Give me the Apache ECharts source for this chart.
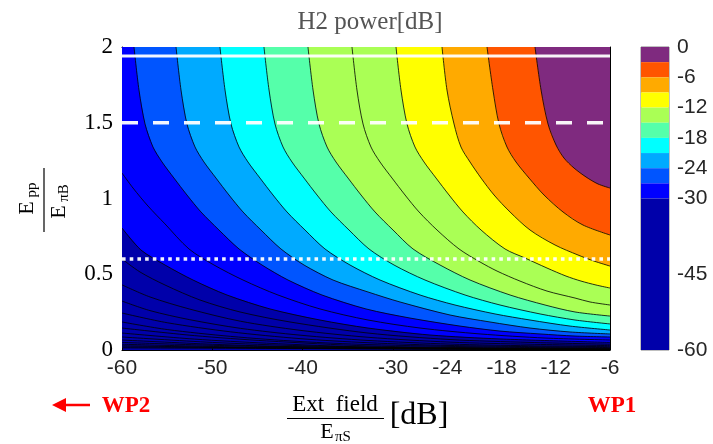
<!DOCTYPE html>
<html><head><meta charset="utf-8">
<script src="https://cdn.jsdelivr.net/npm/echarts@6/dist/echarts.min.js"></script>
<style>html,body{margin:0;padding:0;background:#fff}#c{width:713px;height:444px}</style>
</head><body><div id="c"></div>
<script>
// ---- axes / ticks ----
const xTicks = [-60, -50, -40, -30, -24, -18, -12, -6];
const yTicks = [0, 0.5, 1, 1.5, 2];
const cbTicks = [0, -6, -12, -18, -24, -30, -45, -60];
const cbEdges = [0, -3, -6, -9, -12, -15, -18, -21, -24, -27, -30, -60];
const cbColors = ['#7f2a7f', '#ff5500', '#ffaa00', '#ffff00', '#aaff55', '#55ffaa', '#00ffff', '#00aaff', '#0055ff', '#0000ff', '#0000aa'];

// ---- white reference lines (y values) ----
const wpSolidY = 1.94;
const wpDashedY = 1.5;
const wpDottedY = 0.6;

// ---- contour lines [ext field dB, Epp/EpiB] ----
const c10 = [[-14.3,2],[-13.63,1.716],[-12.86,1.492],[-11.97,1.353],[-11.09,1.267],[-9.98,1.201],[-8.65,1.142],[-7.33,1.096],[-6,1.069]]; // -2.5 dB
const c9 = [[-19.61,2],[-18.95,1.716],[-18.28,1.492],[-17.4,1.34],[-16.4,1.241],[-14.96,1.135],[-13.3,1.023],[-11.2,0.911],[-8.99,0.825],[-6,0.759]]; // -5
const c8 = [[-24.59,2],[-24.04,1.716],[-23.26,1.492],[-22.49,1.34],[-21.49,1.241],[-20.27,1.135],[-18.83,1.023],[-17.06,0.911],[-14.85,0.792],[-12.08,0.693],[-9.54,0.627],[-7.77,0.587],[-6,0.554]]; // -7.5
const c7 = [[-29.68,2],[-29.13,1.716],[-28.46,1.492],[-27.58,1.34],[-26.58,1.241],[-25.25,1.135],[-23.81,1.023],[-22.27,0.911],[-20.27,0.792],[-17.62,0.667],[-15.4,0.607],[-12.97,0.541],[-10.87,0.488],[-9.21,0.455],[-7.55,0.429],[-6,0.409]]; // -10
const c6 = [[-34.55,2],[-34.0,1.716],[-33.33,1.492],[-32.45,1.34],[-31.45,1.241],[-30.12,1.135],[-28.68,1.023],[-27.13,0.911],[-25.14,0.792],[-22.71,0.667],[-20.38,0.581],[-18.5,0.521],[-15.96,0.455],[-12.97,0.389],[-9.87,0.343],[-8.21,0.317],[-6,0.297]]; // -12.5
const c5 = [[-39.42,2],[-38.86,1.716],[-38.2,1.492],[-37.31,1.34],[-36.32,1.241],[-34.99,1.135],[-33.55,1.023],[-32.0,0.911],[-30.01,0.792],[-27.8,0.667],[-24.81,0.561],[-21.49,0.462],[-17.06,0.363],[-13.19,0.297],[-9.87,0.251],[-6,0.224]]; // -15
const c4 = [[-44.29,2],[-43.73,1.716],[-43.07,1.492],[-42.18,1.34],[-41.19,1.241],[-39.86,1.135],[-38.42,1.023],[-36.87,0.911],[-34.88,0.792],[-32.67,0.667],[-29.9,0.561],[-26.47,0.462],[-22.04,0.363],[-18.17,0.297],[-13.74,0.238],[-9.87,0.198],[-6,0.172]]; // -17.5
const c3 = [[-49.16,2],[-48.6,1.716],[-47.94,1.492],[-47.05,1.34],[-46.06,1.241],[-44.73,1.135],[-43.29,1.023],[-41.74,0.911],[-39.75,0.792],[-37.54,0.667],[-34.77,0.561],[-31.45,0.462],[-27.02,0.363],[-23.15,0.297],[-18.72,0.238],[-14.85,0.198],[-10.42,0.158],[-6,0.132]]; // -20
const c2 = [[-54.02,2],[-53.47,1.716],[-52.81,1.492],[-51.92,1.34],[-50.93,1.241],[-49.6,1.135],[-48.16,1.023],[-46.61,0.911],[-44.62,0.792],[-42.41,0.667],[-39.86,0.561],[-36.65,0.462],[-32.78,0.383],[-29.24,0.317],[-23.7,0.231],[-19.28,0.185],[-14.85,0.145],[-10.42,0.119],[-6,0.106]]; // -22.5
const c1 = [[-58.67,2],[-58.12,1.716],[-57.45,1.492],[-56.57,1.34],[-55.57,1.241],[-54.25,1.135],[-52.81,1.023],[-51.26,0.911],[-49.27,0.792],[-47.05,0.667],[-44.51,0.561],[-41.63,0.462],[-37.87,0.363],[-33.0,0.271],[-28.13,0.211],[-22.6,0.158],[-18.17,0.125],[-13.74,0.106],[-9.87,0.092],[-6,0.086]]; // -25
const l1 = [[-60,1.168],[-58.78,1.069],[-57.12,0.95],[-55.24,0.832],[-52.59,0.667],[-49.82,0.561],[-46.61,0.462],[-42.74,0.363],[-38.09,0.271],[-32.78,0.198],[-27.02,0.145],[-20.38,0.106],[-13.19,0.079],[-6,0.066]]; // -27.5
const l2 = [[-60,0.805],[-57.9,0.66],[-55.24,0.561],[-52.14,0.462],[-48.38,0.363],[-43.62,0.271],[-38.09,0.198],[-32.78,0.145],[-25.92,0.099],[-18.17,0.073],[-6,0.05]]; // -30
const l3 = [[-60,0.601],[-58.01,0.515],[-55.24,0.429],[-51.37,0.33],[-46.94,0.251],[-41.41,0.185],[-32.78,0.112],[-23.7,0.069],[-14.85,0.05],[-6,0.038]];
const l4 = [[-60,0.43],[-56.9,0.35],[-52.5,0.27],[-46.9,0.19],[-40.3,0.13],[-32.78,0.084],[-23.7,0.052],[-14.85,0.038],[-6,0.029]];
const l5 = [[-60,0.323],[-56.9,0.26],[-52.5,0.2],[-46.9,0.143],[-40.3,0.098],[-32.78,0.063],[-23.7,0.039],[-14.85,0.028],[-6,0.022]];
const l6 = [[-60,0.244],[-55,0.18],[-48,0.12],[-40.3,0.075],[-32.78,0.048],[-23.7,0.03],[-6,0.016]];
const l7 = [[-60,0.185],[-55,0.135],[-48,0.09],[-40.3,0.056],[-32.78,0.036],[-20,0.02],[-6,0.012]];
const l8 = [[-60,0.145],[-52,0.095],[-44,0.06],[-32.78,0.027],[-20,0.015],[-6,0.009]];
const l9 = [[-60,0.112],[-52,0.072],[-44,0.045],[-32.78,0.02],[-6,0.0068]];
const l10 = [[-60,0.086],[-50,0.05],[-40,0.028],[-25,0.012],[-6,0.005]];
const l11 = [[-60,0.066],[-50,0.038],[-40,0.021],[-6,0.0038]];
const l12 = [[-60,0.05],[-45,0.024],[-6,0.0028]];
const l13 = [[-60,0.038],[-45,0.018],[-6,0.002]];
const l14 = [[-60,0.028],[-40,0.011],[-6,0.0015]];
const l15 = [[-60,0.02],[-6,0.001]];
const l16 = [[-60,0.014],[-6,0.0007]];

// contour lines ordered from lowest to highest level, with the colour of the band above each
const contourLines = [l16,l15,l14,l13,l12,l11,l10,l9,l8,l7,l6,l5,l4,l3,l2,l1,c1,c2,c3,c4,c5,c6,c7,c8,c9,c10];
const bandAbove = ['#0000aa','#0000aa','#0000aa','#0000aa','#0000aa','#0000aa','#0000aa','#0000aa','#0000aa','#0000aa','#0000aa','#0000aa','#0000aa','#0000aa',
  '#0000ff','#0000ff','#0055ff','#00aaff','#00ffff','#55ffaa','#aaff55','#aaff55','#ffff00','#ffaa00','#ff5500','#7f2a7f'];

const X_MIN = -60, X_MAX = -6, Y_MIN = 0, Y_MAX = 2;

const chart = echarts.init(document.getElementById('c'), null, {renderer: 'canvas'});

const sans = 'Liberation Sans, Arial, sans-serif';
const serif = 'Liberation Serif, Times New Roman, serif';

function fillItem(params, api) {
  const line = contourLines[params.dataIndex];
  const pts = line.map(p => api.coord(p));
  pts.push(api.coord([X_MAX, Y_MAX]));
  pts.push(api.coord([X_MIN, Y_MAX]));
  return {type: 'polygon', shape: {points: pts}, style: {fill: bandAbove[params.dataIndex]}, silent: true};
}
function lineItem(params, api) {
  const line = contourLines[params.dataIndex];
  const pts = line.map(p => api.coord(p));
  return {type: 'polyline', shape: {points: pts, smooth: 0.3}, style: {stroke: '#000', lineWidth: 0.8, fill: null}, silent: true};
}
function cbItem(params, api) {
  const i = params.dataIndex;
  const a = api.coord([0, cbEdges[i]]);
  const b = api.coord([1, cbEdges[i + 1]]);
  return {type: 'rect', shape: {x: a[0], y: a[1], width: b[0] - a[0], height: b[1] - a[1]}, style: {fill: cbColors[i]}, silent: true};
}

const itemData = contourLines.map(l => l[0]);

const option = {
  animation: false,
  backgroundColor: '#fff',
  grid: [
    {left: 122, top: 47, width: 488, height: 303, show: true, backgroundColor: '#0000aa', borderColor: '#000', borderWidth: 0},
    {left: 641, top: 47, width: 28, height: 303, show: true, borderColor: '#808080', borderWidth: 1, backgroundColor: 'transparent'}
  ],
  xAxis: [
    {gridIndex: 0, type: 'value', min: X_MIN, max: X_MAX, position: 'bottom',
     axisLine: {show: true, onZero: false, lineStyle: {color: '#000', width: 1}},
     axisTick: {show: true, inside: true, length: 5, customValues: xTicks, lineStyle: {color: '#000'}},
     axisLabel: {show: true, customValues: xTicks, color: '#262626', fontFamily: sans, fontSize: 21, margin: 8},
     splitLine: {show: false}},
    {gridIndex: 0, type: 'value', min: X_MIN, max: X_MAX, position: 'top',
     axisLine: {show: true, onZero: false, lineStyle: {color: '#000', width: 1}},
     axisTick: {show: true, inside: true, length: 5, customValues: xTicks, lineStyle: {color: '#000'}},
     axisLabel: {show: false}, splitLine: {show: false}},
    {gridIndex: 1, type: 'value', min: 0, max: 1, show: false}
  ],
  yAxis: [
    {gridIndex: 0, type: 'value', min: Y_MIN, max: Y_MAX, interval: 0.5, position: 'left',
     axisLine: {show: true, onZero: false, lineStyle: {color: '#000', width: 1}},
     axisTick: {show: true, inside: true, length: 5, lineStyle: {color: '#000'}},
     axisLabel: {show: true, color: '#000', fontFamily: serif, fontSize: 23, margin: 9, formatter: v => String(v)},
     splitLine: {show: false}},
    {gridIndex: 0, type: 'value', min: Y_MIN, max: Y_MAX, interval: 0.5, position: 'right',
     axisLine: {show: true, onZero: false, lineStyle: {color: '#000', width: 1}},
     axisTick: {show: true, inside: true, length: 5, lineStyle: {color: '#000'}},
     axisLabel: {show: false}, splitLine: {show: false}},
    {gridIndex: 1, type: 'value', min: -60, max: 0, position: 'right',
     axisLine: {show: false}, axisTick: {show: false}, splitLine: {show: false},
     axisLabel: {show: true, customValues: cbTicks, color: '#262626', fontFamily: sans, fontSize: 21, margin: 8}}
  ],
  series: [
    {type: 'custom', xAxisIndex: 0, yAxisIndex: 0, renderItem: fillItem, data: itemData, z: 1, clip: true, silent: true},
    {type: 'custom', xAxisIndex: 0, yAxisIndex: 0, renderItem: lineItem, data: itemData, z: 2, clip: true, silent: true},
    {type: 'line', xAxisIndex: 0, yAxisIndex: 0, data: [[X_MIN, wpSolidY], [X_MAX, wpSolidY]], symbol: 'none', z: 5, silent: true,
     lineStyle: {color: '#fff', width: 3, opacity: 0.95}},
    {type: 'line', xAxisIndex: 0, yAxisIndex: 0, data: [[X_MIN, wpDashedY], [X_MAX, wpDashedY]], symbol: 'none', z: 5, silent: true,
     lineStyle: {color: '#fff', width: 3.5, type: [16, 15], opacity: 0.95}},
    {type: 'line', xAxisIndex: 0, yAxisIndex: 0, data: [[X_MIN, wpDottedY], [X_MAX, wpDottedY]], symbol: 'none', z: 5, silent: true,
     lineStyle: {color: '#fff', width: 3.5, type: [3.6, 4.1], opacity: 0.95}},
    {type: 'custom', xAxisIndex: 2, yAxisIndex: 2, renderItem: cbItem, data: cbColors.map((c, i) => [0.5, cbEdges[i]]), z: 1, silent: true}
  ],
  graphic: [
    {type: 'text', style: {text: 'H2 power[dB]', x: 370, y: 22, align: 'center', verticalAlign: 'middle', font: '25px ' + serif, fill: '#555'}},
    // x axis label
    {type: 'text', style: {text: 'Ext  field', x: 335, y: 405, align: 'center', verticalAlign: 'middle', font: '23px ' + serif, fill: '#000'}},
    {type: 'line', shape: {x1: 287, y1: 418.5, x2: 384, y2: 418.5}, style: {stroke: '#000', lineWidth: 1.2}},
    {type: 'text', style: {text: 'E', x: 327, y: 432, align: 'center', verticalAlign: 'middle', font: '22px ' + serif, fill: '#000'}},
    {type: 'text', style: {text: 'πS', x: 343, y: 437, align: 'center', verticalAlign: 'middle', font: '15px ' + serif, fill: '#000'}},
    {type: 'text', style: {text: '[dB]', x: 419, y: 416, align: 'center', verticalAlign: 'middle', font: '32px ' + serif, fill: '#000'}},
    // y axis label (rotated)
    {type: 'group', x: 44, y: 200, rotation: Math.PI / 2, children: [
      {type: 'text', style: {text: 'E', x: -8, y: -17, align: 'center', verticalAlign: 'middle', font: '22px ' + serif, fill: '#000'}},
      {type: 'text', style: {text: 'pp', x: 10, y: -12, align: 'center', verticalAlign: 'middle', font: '15px ' + serif, fill: '#000'}},
      {type: 'line', shape: {x1: -32, y1: 0, x2: 32, y2: 0}, style: {stroke: '#000', lineWidth: 1.2}},
      {type: 'text', style: {text: 'E', x: -12, y: 15, align: 'center', verticalAlign: 'middle', font: '22px ' + serif, fill: '#000'}},
      {type: 'text', style: {text: 'πB', x: 7, y: 20, align: 'center', verticalAlign: 'middle', font: '15px ' + serif, fill: '#000'}}
    ]},
    // WP markers
    {type: 'line', shape: {x1: 62, y1: 405, x2: 90, y2: 405}, style: {stroke: '#ff0000', lineWidth: 2.5}},
    {type: 'polygon', shape: {points: [[52, 405], [66, 398], [66, 412]]}, style: {fill: '#ff0000'}},
    {type: 'text', style: {text: 'WP2', x: 126, y: 406, align: 'center', verticalAlign: 'middle', font: 'bold 23px ' + serif, fill: '#ff0000'}},
    {type: 'text', style: {text: 'WP1', x: 612, y: 406, align: 'center', verticalAlign: 'middle', font: 'bold 23px ' + serif, fill: '#ff0000'}}
  ]
};
chart.setOption(option);
</script>
</body></html>
